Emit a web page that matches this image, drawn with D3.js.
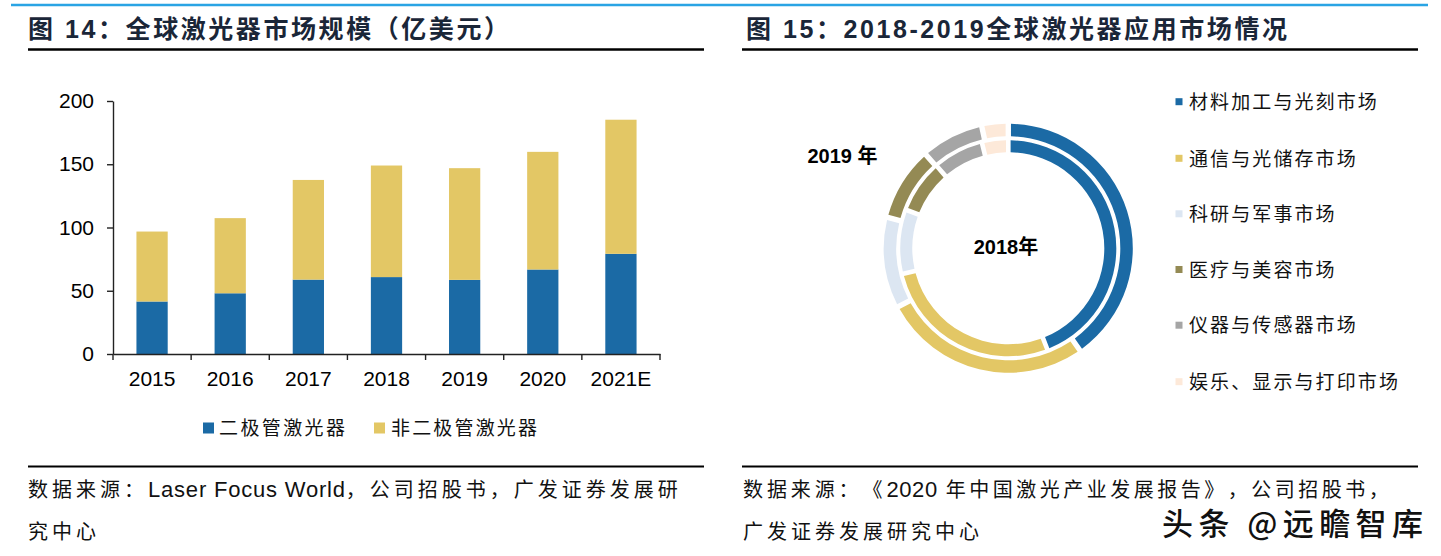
<!DOCTYPE html>
<html><head><meta charset="utf-8">
<script src="https://cdn.jsdelivr.net/npm/d3@7"></script>
<style>html,body{margin:0;padding:0;background:#fff;} svg{display:block;} svg text{text-spacing-trim:space-all;}</style>
</head><body><svg id="c" width="1441" height="556"></svg>
<script>
// ---------- data ----------
const years = ["2015","2016","2017","2018","2019","2020","2021E"];
const barSeries = ["二极管激光器","非二极管激光器"];
const diodeValues = [41.5, 48.0, 58.8, 60.8, 58.6, 66.8, 79.2];
const nonDiodeValues = [55.3, 59.4, 78.8, 88.2, 88.3, 93.0, 106.0];
const yTicks = [0, 50, 100, 150, 200];

const segments = ["材料加工与光刻市场","通信与光储存市场","科研与军事市场","医疗与美容市场","仪器与传感器市场","娱乐、显示与打印市场"];
const share2018 = [45.0, 27.4, 9.3, 7.6, 7.2, 3.5];
const share2019 = [41.0, 27.3, 11.6, 9.3, 7.8, 3.0];
const ringLabels = ["2018年", "2019 年"];

const titleLeft = "图 14：全球激光器市场规模（亿美元）";
const titleRight = "图 15：2018-2019全球激光器应用市场情况";

// ---------- styles ----------
const barColors = ["#1B6AA5", "#E3C765"];
const segColors = ["#1B6AA5", "#E3C765", "#DCE6F2", "#948A54", "#A5A5A5", "#FDE9D9"];
const CJK = "'Noto Sans CJK SC', sans-serif";
const LAT = "'Liberation Sans', Arial, 'Noto Sans CJK SC', sans-serif";

const svg = d3.select("#c");

// ---------- header ----------
svg.append("line").attr("x1", 11).attr("x2", 1428).attr("y1", 5).attr("y2", 5)
  .attr("stroke", "#2aa4e4").attr("stroke-width", 2.5);
[[28, 704], [742, 1418]].forEach(([a, b]) => {
  svg.append("line").attr("x1", a).attr("x2", b).attr("y1", 49.5).attr("y2", 49.5)
    .attr("stroke", "#000").attr("stroke-width", 2.5);
  svg.append("line").attr("x1", a).attr("x2", b).attr("y1", 466.5).attr("y2", 466.5)
    .attr("stroke", "#000").attr("stroke-width", 2.2);
});
svg.append("text").attr("x", 28).attr("y", 37.5).attr("font-family", LAT).attr("font-weight", 700)
  .attr("font-size", 25).attr("fill", "#1a2638").attr("textLength", 481).attr("lengthAdjust", "spacing")
  .text(titleLeft);
svg.append("text").attr("x", 746).attr("y", 37.5).attr("font-family", LAT).attr("font-weight", 700)
  .attr("font-size", 25).attr("fill", "#1a2638").attr("textLength", 541).attr("lengthAdjust", "spacing")
  .text(titleRight);

// ---------- bar chart ----------
const x = d3.scaleBand().domain(years).range([113, 660]).paddingInner(0.6).paddingOuter(0.3);
const y = d3.scaleLinear().domain([0, 200]).range([354, 101]);

const table = years.map((yr, i) => ({ year: yr, d0: diodeValues[i], d1: nonDiodeValues[i] }));
const stack = d3.stack().keys(["d0", "d1"])(table);

svg.append("g").selectAll("g").data(stack).join("g")
  .attr("fill", (d, i) => barColors[i])
  .selectAll("rect").data(d => d).join("rect")
  .attr("x", d => x(d.data.year))
  .attr("width", x.bandwidth())
  .attr("y", d => y(d[1]))
  .attr("height", d => y(d[0]) - y(d[1]));

const yAxis = svg.append("g").attr("transform", "translate(113,0)")
  .call(d3.axisLeft(y).tickValues(yTicks).tickSize(6).tickSizeOuter(0).tickPadding(13));
yAxis.select(".domain").attr("stroke", "#222").attr("stroke-width", 1.4);
yAxis.selectAll(".tick line").attr("stroke", "#222").attr("stroke-width", 1.4);
yAxis.selectAll("text").attr("font-family", LAT).attr("font-size", 21).attr("fill", "#000");

const xAxis = svg.append("g").attr("transform", "translate(0,354)")
  .call(d3.axisBottom(x).tickSize(0).tickPadding(17.5));
xAxis.select(".domain").attr("stroke", "#222").attr("stroke-width", 1.4);
xAxis.selectAll("text").attr("font-family", LAT).attr("font-size", 21).attr("fill", "#000");
const bounds = d3.range(years.length + 1).map(i => x.range()[0] + i * x.step());
xAxis.selectAll(".bnd").data(bounds).join("line").attr("class", "bnd")
  .attr("x1", d => d).attr("x2", d => d).attr("y1", 0).attr("y2", 6)
  .attr("stroke", "#222").attr("stroke-width", 1.4);

// bar legend
const legX = [203, 374];
const legTx = [219, 391];
const legW = [126, 146];
barSeries.forEach((s, i) => {
  svg.append("rect").attr("x", legX[i]).attr("y", 422.5).attr("width", 11).attr("height", 11).attr("fill", barColors[i]);
  svg.append("text").attr("x", legTx[i]).attr("y", 435).attr("font-family", CJK).attr("font-size", 19)
    .attr("fill", "#111").attr("textLength", legW[i]).attr("lengthAdjust", "spacing").text(s);
});

// ---------- donut ----------
const cx = 1008.3, cy = 248.3;
const pie = d3.pie().sort(null).padAngle(0.032);
const rings = [
  { data: share2018, r0: 96, r1: 108 },
  { data: share2019, r0: 112, r1: 124.5 }
];
const dg = svg.append("g").attr("transform", `translate(${cx},${cy})`);
rings.forEach(rg => {
  const arc = d3.arc().innerRadius(rg.r0).outerRadius(rg.r1);
  dg.append("g").selectAll("path").data(pie(rg.data)).join("path")
    .attr("d", arc).attr("fill", (d, i) => segColors[i]);
});
svg.append("text").attr("x", 1006).attr("y", 253.5).attr("text-anchor", "middle")
  .attr("font-family", LAT).attr("font-weight", 700).attr("font-size", 20).attr("fill", "#000").text(ringLabels[0]);
svg.append("text").attr("x", 842.5).attr("y", 162.5).attr("text-anchor", "middle")
  .attr("font-family", LAT).attr("font-weight", 700).attr("font-size", 20).attr("fill", "#000").text(ringLabels[1]);

// donut legend
const legY = [101.7, 158.3, 213.8, 269.5, 325.2, 381.7];
segments.forEach((s, i) => {
  svg.append("rect").attr("x", 1175.5).attr("y", legY[i] - 3.5).attr("width", 7).attr("height", 7).attr("fill", segColors[i]);
  svg.append("text").attr("x", 1189).attr("y", legY[i] + 7.2).attr("font-family", CJK).attr("font-size", 19)
    .attr("letter-spacing", 2.1).attr("fill", "#111").text(s);
});

// ---------- footers ----------
function footer(xp, yp, parts) {
  const t = svg.append("text").attr("x", xp).attr("y", yp).attr("fill", "#111");
  parts.forEach(([txt, lat, ls]) => {
    t.append("tspan").attr("font-family", lat ? LAT : CJK).attr("font-size", lat ? 22 : 20)
      .attr("letter-spacing", ls).text(txt);
  });
}
footer(28, 497, [["数据来源：", false, 4], ["Laser Focus World", true, 0.8], ["，公司招股书，广发证券发展研", false, 4]]);
footer(28, 539, [["究中心", false, 4]]);
footer(743, 497, [["数据来源：《", false, 3.9], ["2020", true, 0.6], [" 年中国激光产业发展报告》，公司招股书，", false, 3.5]]);
footer(743, 539, [["广发证券发展研究中心", false, 4]]);

// watermark
svg.append("text").attr("x", 1162).attr("y", 535).attr("font-family", CJK).attr("font-size", 31).attr("font-weight", 500)
  .attr("fill", "#111").attr("stroke", "#fff").attr("stroke-width", 3).attr("paint-order", "stroke")
  .attr("textLength", 261).attr("lengthAdjust", "spacing").text("头条 @远瞻智库");
</script>
</body></html>
